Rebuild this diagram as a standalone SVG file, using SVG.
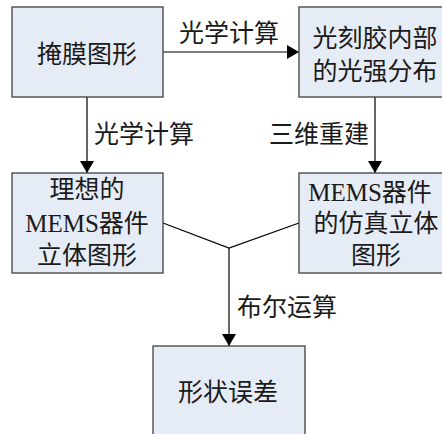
<svg xmlns="http://www.w3.org/2000/svg" width="442" height="434" viewBox="0 0 442 434">
<style>
.box{fill:#e6ecf6;stroke:#404040;stroke-width:1.3}
.t{font-family:"Liberation Serif","Noto Sans CJK SC",serif;font-size:25px;fill:#1a1a1a;text-anchor:middle;dominant-baseline:central}
.ln{stroke:#000;stroke-width:1.2;fill:none}
</style>
<defs>
<marker id="ah" markerWidth="12" markerHeight="14" refX="12" refY="7" orient="auto" markerUnits="userSpaceOnUse">
<path d="M0,0 L12,7 L0,14 Z" fill="#000"/>
</marker>
</defs>
<g id="connectors">
<line class="ln" x1="163" y1="52" x2="299" y2="52" marker-end="url(#ah)"/>
<line class="ln" x1="87" y1="97" x2="87" y2="173" marker-end="url(#ah)"/>
<line class="ln" x1="375" y1="97" x2="375" y2="173" marker-end="url(#ah)"/>
<polyline class="ln" points="163,223 229,248 299,223"/>
<line class="ln" x1="229" y1="248" x2="229" y2="346" marker-end="url(#ah)"/>
<text class="t" x="229" y="33">光学计算</text>
<text class="t" x="144" y="134">光学计算</text>
<text class="t" x="319" y="134">三维重建</text>
<text class="t" x="287" y="307">布尔运算</text>
</g>
<g id="mask">
<rect class="box" x="12" y="7" width="151" height="90"/>
<text class="t" x="87" y="54">掩膜图形</text>
</g>
<g id="intensity">
<rect class="box" x="299" y="7" width="151" height="90"/>
<text class="t" x="375" y="38">光刻胶内部</text>
<text class="t" x="375" y="71">的光强分布</text>
</g>
<g id="ideal">
<rect class="box" x="12" y="173" width="151" height="100"/>
<text class="t" x="87" y="189">理想的</text>
<text class="t" x="87" y="223">MEMS器件</text>
<text class="t" x="87" y="255">立体图形</text>
</g>
<g id="simulated">
<rect class="box" x="299" y="173" width="151" height="100"/>
<text class="t" x="370" y="192">MEMS器件</text>
<text class="t" x="376" y="223">的仿真立体</text>
<text class="t" x="376" y="255">图形</text>
</g>
<g id="error">
<rect class="box" x="153" y="346" width="152" height="92"/>
<text class="t" x="228" y="392">形状误差</text>
</g>
</svg>
